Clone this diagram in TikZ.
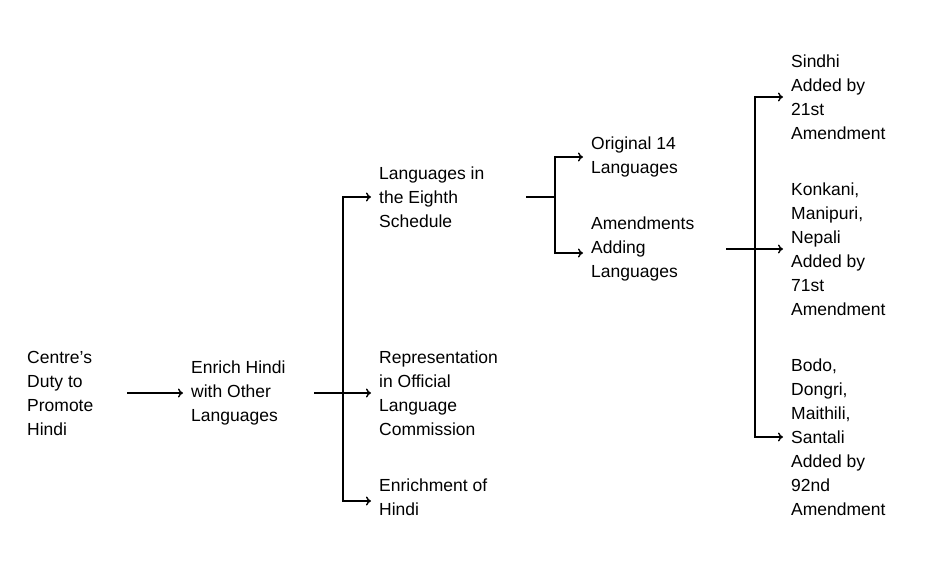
\documentclass[tikz,border=0pt]{standalone}
\usepackage{fontspec}
\setmainfont{Liberation Sans}
\usetikzlibrary{arrows.meta}
\begin{document}
\begin{tikzpicture}[x=1pt,y=-1pt,
    txt/.style={anchor=west,align=left,inner sep=0pt,font=\fontsize{17.5}{24}\selectfont},
    link/.style={line width=1.4pt,-{To[length=5pt,width=9pt]}},
    bar/.style={line width=1.4pt}]
  \useasboundingbox (0,0) rectangle (934,570);
  % levels
  \node[txt] (duty) at (27,393) {Centre's\\Duty to\\Promote\\Hindi};
  \node[txt] (enrich) at (191,393) {Enrich Hindi\\with Other\\Languages};
  \node[txt] (sched) at (379,197) {Languages in\\the Eighth\\Schedule};
  \node[txt] (repr) at (379,393) {Representation\\in Official\\Language\\Commission};
  \node[txt] (enh) at (379,497) {Enrichment of\\Hindi};
  \node[txt] (orig) at (591,157) {Original 14\\Languages};
  \node[txt] (amend) at (591,249) {Amendments\\Adding\\Languages};
  \node[txt] (sindhi) at (791,97) {Sindhi\\Added by\\21st\\Amendment};
  \node[txt] (konk) at (791,249) {Konkani,\\Manipuri,\\Nepali\\Added by\\71st\\Amendment};
  \node[txt] (bodo) at (791,437) {Bodo,\\Dongri,\\Maithili,\\Santali\\Added by\\92nd\\Amendment};
  % branch points
  \coordinate (b1) at (343,393);
  \coordinate (b2) at (555,197);
  \coordinate (b3) at (755,249);
  % connectors
  \draw[link] (127,393) -- ([xshift=-8pt]enrich.west);
  \draw[bar] (314,393) -- (b1);
  \draw[link] (b1) |- ([xshift=-8pt]sched.west);
  \draw[link] (b1) -- ([xshift=-8pt]repr.west);
  \draw[link] (b1) |- ([xshift=-8pt,yshift=-4pt]enh.west);
  \draw[bar] (526,197) -- (b2);
  \draw[link] (b2) |- ([xshift=-8pt]orig.west);
  \draw[link] (b2) |- ([xshift=-8pt,yshift=-4pt]amend.west);
  \draw[bar] (726,249) -- (b3);
  \draw[link] (b3) |- ([xshift=-8pt]sindhi.west);
  \draw[link] (b3) -- ([xshift=-8pt]konk.west);
  \draw[link] (b3) |- ([xshift=-8pt]bodo.west);
\end{tikzpicture}
\end{document}
